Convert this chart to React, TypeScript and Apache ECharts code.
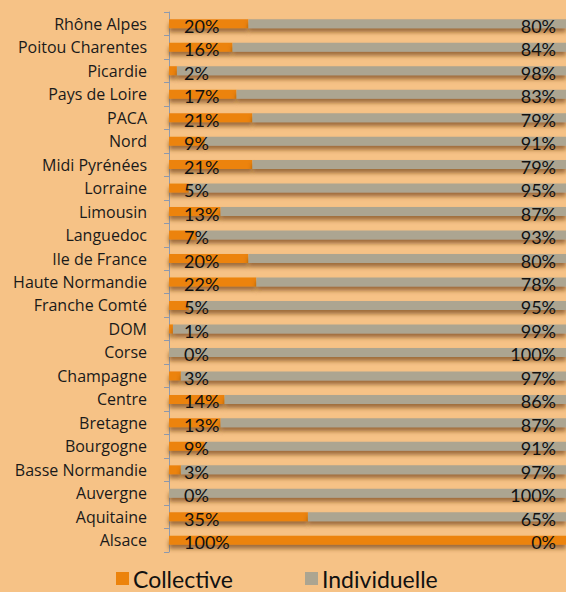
import React, { useEffect, useRef } from "react";
import * as echarts from "echarts";

// bottom-to-top order (as in the axis)
const categories = [
  "Alsace", "Aquitaine", "Auvergne", "Basse Normandie", "Bourgogne", "Bretagne",
  "Centre", "Champagne", "Corse", "DOM", "Franche Comté", "Haute Normandie",
  "Ile de France", "Languedoc", "Limousin", "Lorraine", "Midi Pyrénées", "Nord",
  "PACA", "Pays de Loire", "Picardie", "Poitou Charentes", "Rhône Alpes",
];
const collective = [100, 35, 0, 3, 9, 13, 14, 3, 0, 1, 5, 22, 20, 7, 13, 5, 21, 9, 21, 17, 2, 16, 20];
const individuelle = [0, 65, 100, 97, 91, 87, 86, 97, 100, 99, 95, 78, 80, 93, 87, 95, 79, 91, 79, 83, 98, 84, 80];

const FONT = "Lato, 'Open Sans', sans-serif";
const CAT_FONT = "'Open Sans', Lato, sans-serif";

export default function App() {
  const ref = useRef<HTMLDivElement>(null);
  useEffect(() => {
    document.body.style.margin = "0";
    const chart = echarts.init(ref.current!, null, { renderer: "svg" });
    const shadow = {
      shadowColor: "rgba(110,60,10,0.65)",
      shadowBlur: 4,
      shadowOffsetY: 4,
    };
    chart.setOption({
      animation: false,
      backgroundColor: "#F6C286",
      textStyle: { fontFamily: FONT },
      grid: { left: 169, right: 0, top: 12, bottom: 40, containLabel: false },
      legend: {
        data: ["Collective", "Individuelle"],
        left: 116,
        top: 567,
        padding: 0,
        icon: "rect",
        itemWidth: 13,
        itemHeight: 13,
        itemGap: 72,
        textStyle: { fontSize: 23, color: "#111", fontFamily: FONT, padding: [0, 0, 0, -1] },
      },
      xAxis: {
        type: "value",
        min: 0,
        max: 100,
        show: false,
      },
      yAxis: {
        type: "category",
        data: categories,
        axisLine: { show: true, lineStyle: { color: "#8E9AAE", width: 1 } },
        axisTick: { show: true, length: 5, lineStyle: { color: "#8E9AAE" } },
        axisLabel: { fontSize: 16, color: "#1a1a1a", margin: 22, fontFamily: CAT_FONT },
        splitLine: { show: false },
      },
      series: [
        {
          name: "Collective",
          type: "bar",
          stack: "t",
          data: collective,
          barWidth: 9,
          itemStyle: { color: "#EC830C", ...shadow },
          label: {
            show: true,
            position: "insideLeft",
            distance: 15,
            offset: [0, 2],
            formatter: "{c}%",
            fontSize: 18,
            color: "#111",
            fontFamily: FONT,
          },
        },
        {
          name: "Individuelle",
          type: "bar",
          stack: "t",
          data: individuelle,
          barWidth: 9,
          itemStyle: { color: "#ACA591", ...shadow },
          label: {
            show: true,
            position: "insideRight",
            distance: 10,
            offset: [0, 2],
            formatter: "{c}%",
            fontSize: 18,
            color: "#111",
            fontFamily: FONT,
          },
        },
      ],
    });
    return () => chart.dispose();
  }, []);
  return <div ref={ref} style={{ width: 566, height: 592, position: "absolute", left: 0, top: 0 }} />;
}
